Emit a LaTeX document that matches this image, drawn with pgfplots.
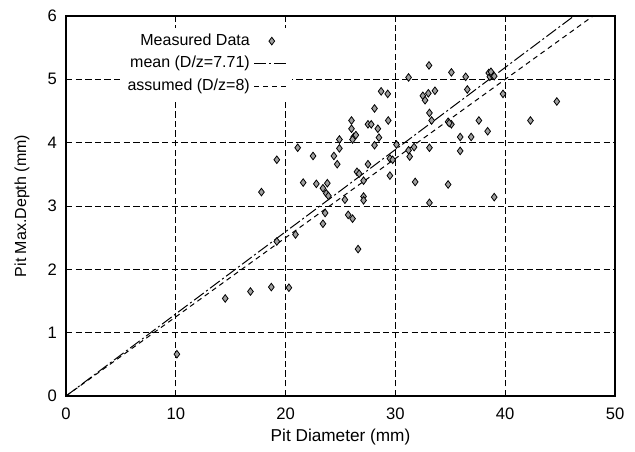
\documentclass[border=0pt]{standalone}
\usepackage{fontspec}
\setmainfont{Liberation Sans}
\usepackage{pgfplots}
\pgfplotsset{compat=1.18}
\pgfplotsset{
  legline/.style={legend image code/.code={\draw[##1] (0pt,0pt) -- (17.5pt,0pt);}},
  legmark/.style={legend image code/.code={\draw[mark repeat=2,mark phase=2,##1] plot coordinates {(0pt,0pt) (8.75pt,0pt) (17.5pt,0pt)};}},
}
\begin{document}
\begin{tikzpicture}
\begin{axis}[
  scale only axis,
  width=274.5pt, height=190pt,
  xmin=0, xmax=50, ymin=0, ymax=6,
  xtick={0,10,20,30,40,50},
  ytick={0,1,2,3,4,5,6},
  /pgf/number format/assume math mode=true,
  font=\fontsize{8}{9.6}\selectfont,
  tick label style={font=\fontsize{8.3}{9.6}\selectfont},
  major tick length=0pt,
  axis line style={black, line width=0.6pt},
  grid=major,
  major grid style={black, line width=0.4pt, dash pattern=on 3.2pt off 1.6pt},
  xticklabel style={yshift=-2.5pt},
  yticklabel style={xshift=-1pt},
  xlabel={Pit Diameter (mm)},
  ylabel={Pit Max.Depth (mm)},
  xlabel style={at={(axis description cs:0.5,-0.108)}, anchor=center, font=\fontsize{8.6}{9.6}\selectfont},
  ylabel style={at={(axis description cs:-0.080,0.5)}, anchor=center},
  legend plot pos=right,
  legend cell align=right,
  legend style={draw=none, fill=white, at={(axis description cs:0.412,0.97)}, anchor=north east,
    font=\fontsize{8}{9.6}\selectfont, row sep=0pt, inner sep=1pt},
]
\addplot[only marks, mark=diamond*, mark size=1.9pt, draw=black, fill=gray!75, line width=0.4pt, legmark]
coordinates {
(10.1,0.66) (14.5,1.54) (16.8,1.65) (18.7,1.72) (20.3,1.71)
(19.2,2.44) (20.9,2.55) (17.8,3.22) (19.2,3.73) (21.1,3.92)
(22.5,3.79) (24.4,3.79) (24.7,3.66) (24.9,3.91) (24.9,4.05)
(21.6,3.37) (22.8,3.35) (23.8,3.36) (23.4,3.28) (23.7,3.20)
(23.9,3.16) (23.6,2.89) (23.4,2.72) (25.4,3.10) (25.7,2.86)
(26.1,2.80) (26.6,2.32) (26.5,3.54) (26.7,3.51) (27.5,3.66)
(27.1,3.40) (27.1,3.15) (27.1,3.09) (26.0,4.35) (26.0,4.22)
(26.2,4.09) (26.1,4.05) (26.4,4.12) (27.5,4.29) (27.8,4.29)
(28.1,4.54) (28.4,4.22) (28.5,4.08) (28.1,3.96) (28.7,4.81)
(29.3,4.77) (29.35,4.35) (29.5,3.75) (29.75,3.73) (29.5,3.48)
(30.1,3.97) (31.2,3.88) (31.3,3.78) (31.7,3.93) (31.8,3.38)
(31.2,5.03) (33.06,5.22) (32.5,4.74) (33.0,4.78) (33.6,4.82)
(32.7,4.67) (33.1,4.47) (33.3,4.35) (33.1,3.92) (33.1,3.05)
(34.8,4.33) (35.1,4.29) (34.9,4.31) (34.8,3.34) (35.1,5.11)
(36.4,5.04) (36.55,4.84) (35.9,4.09) (36.9,4.09) (35.9,3.87)
(37.6,4.35) (38.4,4.18) (38.5,5.10) (38.6,5.04) (38.8,5.07)
(39.0,5.05) (38.7,5.12) (39.8,4.77) (39.0,3.14) (42.3,4.35)
(44.7,4.65)
};
\addlegendentry{Measured Data}
\addplot[black, line width=0.5pt, dash pattern=on 6pt off 1.5pt on 1pt off 1.5pt, legline]
coordinates {(0,0) (46.26,6)};
\addlegendentry{mean (D/z=7.71)}
\addplot[black, line width=0.5pt, dash pattern=on 2.5pt off 2pt, legline]
coordinates {(0,0) (48,6)};
\addlegendentry{assumed (D/z=8)}
\end{axis}
\pgfresetboundingbox
\path ([shift={(-33pt,-27.5pt)}]current axis.south west) rectangle ([shift={(10pt,8pt)}]current axis.north east);
\end{tikzpicture}
\end{document}
